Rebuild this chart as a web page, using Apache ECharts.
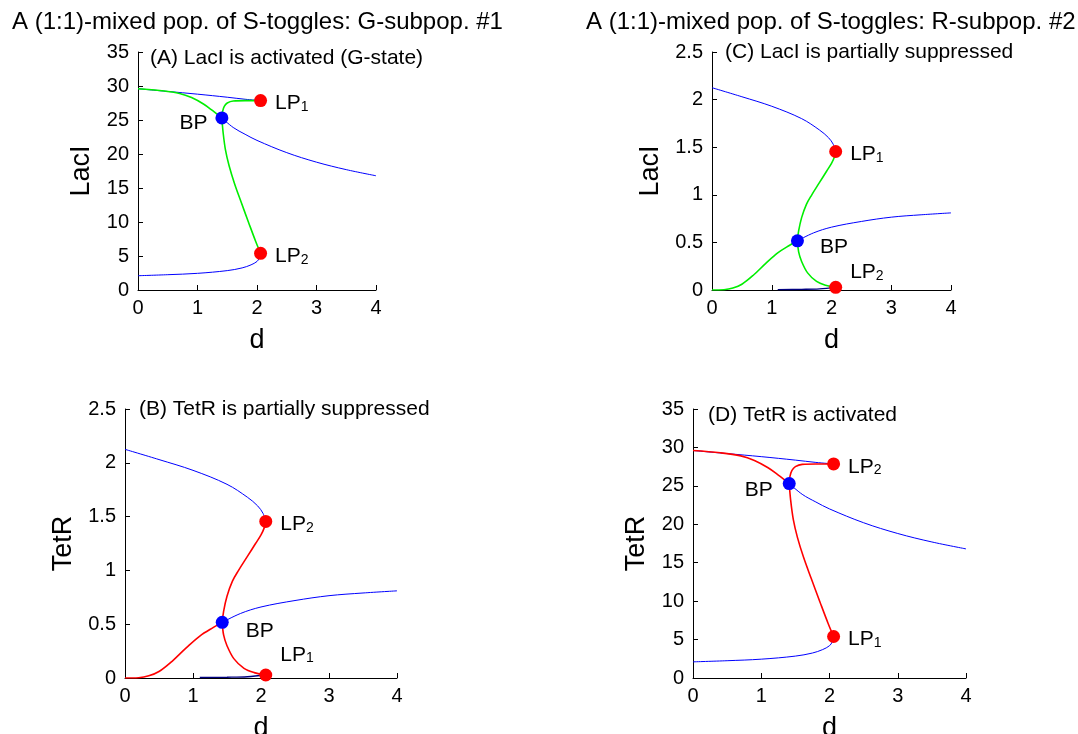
<!DOCTYPE html>
<html>
<head>
<meta charset="utf-8">
<script src="https://cdn.jsdelivr.net/npm/echarts@6/dist/echarts.min.js"></script>
<style>
html,body{margin:0;padding:0;background:#fff;}
#c{width:1078px;height:734px;}
</style>
</head>
<body>
<div id="c"></div>
<script>
// ---- data (d, concentration) ----
// high-level panels (A: LacI of G-subpop, D: TetR of R-subpop)
const hiBlueTop    = [[0,29.6],[0.5,29.2],[1,28.8],[1.5,28.35],[1.8,28.05],[2.06,27.85]];
const hiBlueRight  = [[1.41,25.3],[1.6,23.9],[1.8,22.9],[2,22.0],[2.5,20.2],[3,18.8],[3.5,17.7],[4,16.8]];
const hiBlueBottom = [[0,2.1],[0.5,2.25],[1,2.45],[1.5,2.85],[1.75,3.25],[1.9,3.7],[2,4.2],[2.04,4.7],[2.06,5.4]];
const hiColTop     = [[0,29.6],[0.4,29.3],[0.7,28.9],[0.9,28.3],[1.1,27.35],[1.25,26.4],[1.41,25.3]];
const hiColUp      = [[1.41,25.3],[1.42,26.2],[1.45,27.0],[1.5,27.5],[1.6,27.8],[1.8,27.85],[2.06,27.85]];
const hiColDown    = [[1.41,25.3],[1.43,23.2],[1.47,20.6],[1.53,18.3],[1.62,15.7],[1.73,13.0],[1.86,9.9],[1.98,7.1],[2.06,5.4]];
const hiLP1 = [2.06,27.85], hiLP2 = [2.06,5.4], hiBP = [1.41,25.3];

// low-level panels (C: LacI of R-subpop, B: TetR of G-subpop)
const loBlueTop    = [[0,2.125],[0.5,2.03],[1,1.93],[1.5,1.8],[1.8,1.68],[1.95,1.6],[2.03,1.53],[2.07,1.455]];
const loBlueRight  = [[1.43,0.517],[1.7,0.6],[2,0.66],[2.5,0.72],[3,0.765],[3.5,0.79],[4,0.81]];
const loBlueBottom = [[1.1,0.004],[1.5,0.007],[1.8,0.012],[2.07,0.028]];
const loColRise    = [[0,0],[0.2,0.003],[0.35,0.02],[0.5,0.06],[0.7,0.16],[0.9,0.28],[1.1,0.39],[1.3,0.47],[1.43,0.517]];
const loColUp      = [[1.43,0.517],[1.45,0.62],[1.5,0.76],[1.58,0.9],[1.67,1.0],[1.8,1.13],[1.92,1.25],[2.0,1.33],[2.05,1.4],[2.07,1.455]];
const loColDown    = [[1.43,0.517],[1.45,0.4],[1.5,0.3],[1.6,0.18],[1.75,0.09],[1.9,0.05],[2.07,0.028]];
const loLP1 = [2.07,1.455], loLP2 = [2.07,0.028], loBP = [1.43,0.517];

const mainTitles = ['A (1:1)-mixed pop. of S-toggles: G-subpop. #1', 'A (1:1)-mixed pop. of S-toggles: R-subpop. #2'];
const panelTexts = ['(A) LacI is activated (G-state)', '(B) TetR is partially suppressed', '(C) LacI is partially suppressed', '(D) TetR is activated'];
const yNames = ['LacI', 'TetR', 'LacI', 'TetR'];
const xName = 'd';

// ---- layout ----
const FONT = '"Liberation Sans", Arial, sans-serif';
const grids = [
  {left:138, top:52,  width:238, height:238},
  {left:125, top:409, width:272, height:269},
  {left:712, top:52,  width:239, height:238},
  {left:693, top:409, width:273, height:269}
].map(g=>Object.assign(g,{outerBoundsMode:'none', containLabel:false}));
const yRanges = [[35,5],[2.5,0.5],[2.5,0.5],[35,5]];

const BLUE = '#0000ff', GREEN = '#00ee00', RED = '#ff0000';
const rich = {s:{fontSize:14, fontFamily:FONT, color:'#000', padding:[16,0,0,0], lineHeight:15, verticalAlign:'bottom'}};

function lineS(i, data, color, w){
  return {type:'line', xAxisIndex:i, yAxisIndex:i, data:data, showSymbol:false, symbol:'none',
    smooth:0.35, lineStyle:{color:color, width:w}, z:w>1?3:2, silent:true, animation:false};
}
function pt(value, color, text, pos, dist, off){
  return {value:value, itemStyle:{color:color, opacity:1},
    label:{show:true, formatter:text, position:pos, distance:dist, offset:off,
      fontSize:21, fontFamily:FONT, color:'#000', rich:rich}};
}
function dots(i, pts){
  return {type:'scatter', xAxisIndex:i, yAxisIndex:i, symbolSize:13, z:5, data:pts, animation:false, silent:true,
    itemStyle:{opacity:1}};
}

const series = [];
// A
series.push(lineS(0, hiBlueTop, BLUE, 1), lineS(0, hiBlueRight, BLUE, 1), lineS(0, hiBlueBottom, BLUE, 1));
series.push(lineS(0, hiColTop, GREEN, 1.6), lineS(0, hiColUp, GREEN, 1.6), lineS(0, hiColDown, GREEN, 1.6));
series.push(dots(0, [pt(hiLP1, RED, 'LP{s|1}', 'right', 8, [0,3]), pt(hiLP2, RED, 'LP{s|2}', 'right', 8, [0,3]), pt(hiBP, BLUE, 'BP', 'left', 8, [0,5])]));
// B
series.push(lineS(1, loBlueTop, BLUE, 1), lineS(1, loBlueRight, BLUE, 1), lineS(1, loBlueBottom, '#000080', 1.4));
series.push(lineS(1, loColRise, RED, 1.6), lineS(1, loColUp, RED, 1.6), lineS(1, loColDown, RED, 1.6));
series.push(dots(1, [pt(loLP2, RED, 'LP{s|1}', 'right', 8, [0,-20]), pt(loLP1, RED, 'LP{s|2}', 'right', 8, [0,3]), pt(loBP, BLUE, 'BP', 'right', 17, [0,9])]));
// C
series.push(lineS(2, loBlueTop, BLUE, 1), lineS(2, loBlueRight, BLUE, 1), lineS(2, loBlueBottom, '#000080', 1.4));
series.push(lineS(2, loColRise, GREEN, 1.6), lineS(2, loColUp, GREEN, 1.6), lineS(2, loColDown, GREEN, 1.6));
series.push(dots(2, [pt(loLP1, RED, 'LP{s|1}', 'right', 8, [0,3]), pt(loLP2, RED, 'LP{s|2}', 'right', 8, [0,-15]), pt(loBP, BLUE, 'BP', 'right', 16, [0,6])]));
// D
series.push(lineS(3, hiBlueTop, BLUE, 1), lineS(3, hiBlueRight, BLUE, 1), lineS(3, hiBlueBottom, BLUE, 1));
series.push(lineS(3, hiColTop, RED, 1.6), lineS(3, hiColUp, RED, 1.6), lineS(3, hiColDown, RED, 1.6));
series.push(dots(3, [pt(hiLP1, RED, 'LP{s|2}', 'right', 8, [0,3]), pt(hiLP2, RED, 'LP{s|1}', 'right', 8, [0,3]), pt(hiBP, BLUE, 'BP', 'left', 10, [0,7])]));

const axisLabel = {fontSize:20, fontFamily:FONT, color:'#000'};
const xAxis = grids.map((g,i)=>({type:'value', gridIndex:i, min:0, max:4, interval:1,
  name:xName, nameLocation:'middle', nameGap:37, nameTextStyle:{fontSize:27, fontFamily:FONT, color:'#000'},
  axisLine:{onZero:false, lineStyle:{color:'#000', width:1}},
  axisTick:{inside:true, length:5, lineStyle:{color:'#000'}},
  axisLabel:Object.assign({margin:8}, axisLabel), splitLine:{show:false}}));
const yAxis = grids.map((g,i)=>({type:'value', gridIndex:i, min:0, max:yRanges[i][0], interval:yRanges[i][1],
  name:yNames[i], nameLocation:'middle', nameGap:[1,2].includes(i)?48:43, nameRotate:90,
  nameTextStyle:{fontSize:27, fontFamily:FONT, color:'#000'},
  axisLine:{show:true, onZero:false, lineStyle:{color:'#000', width:1}},
  axisTick:{show:true, inside:true, length:5, lineStyle:{color:'#000'}},
  axisLabel:Object.assign({margin:9}, axisLabel), splitLine:{show:false}}));

const titles = [
  {text:mainTitles[0], left:7, top:5},
  {text:mainTitles[1], left:581, top:5}
].map(t=>Object.assign(t,{textStyle:{fontSize:24, fontWeight:'normal', fontFamily:FONT, color:'#000'}}));
const tPos = [[145,43],[134,394],[720,37],[703,400]];
panelTexts.forEach((t,i)=>titles.push({text:t, left:tPos[i][0], top:tPos[i][1],
  textStyle:{fontSize:21, fontWeight:'normal', fontFamily:FONT, color:'#000'}}));

const chart = echarts.init(document.getElementById('c'), null, {renderer:'canvas'});
chart.setOption({
  backgroundColor:'#fff',
  animation:false,
  title:titles,
  grid:grids,
  xAxis:xAxis,
  yAxis:yAxis,
  series:series
});
</script>
</body>
</html>
